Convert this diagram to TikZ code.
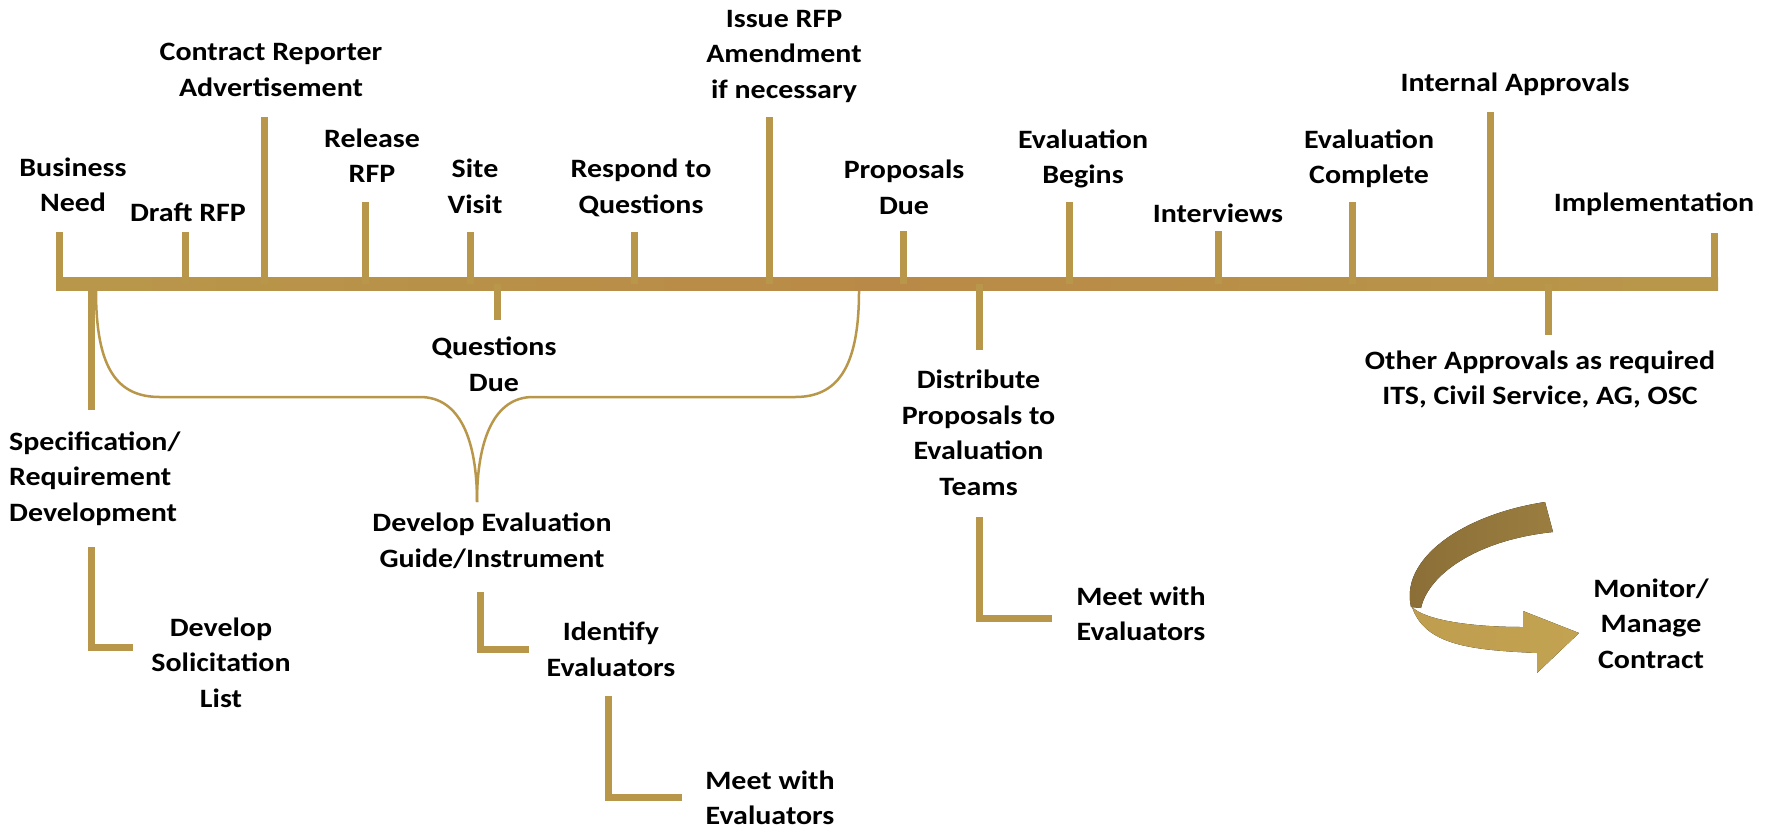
\documentclass[tikz,border=0pt]{standalone}
\usepackage{fontspec}
\setmainfont{Carlito}[FakeStretch=1.13]
\definecolor{gold}{HTML}{B8974A}
\definecolor{goldmid}{HTML}{B98A47}
\definecolor{darkA}{HTML}{8B6E36}
\definecolor{darkB}{HTML}{9A7D3F}
\definecolor{lightA}{HTML}{BF9E4F}
\definecolor{lightB}{HTML}{BA8D4A}
\definecolor{lightC}{HTML}{C2A351}
\begin{document}
\begin{tikzpicture}[x=1pt,y=-1pt,
  lbl/.style={font=\fontsize{26.5}{35.5}\selectfont\bfseries, align=center, inner sep=0pt,
    execute at begin node=\strut, execute at end node=\strut},
  tick/.style={draw=gold, line width=7pt},
  elbow/.style={draw=gold, line width=7pt, line join=miter},
  bracecurve/.style={draw=gold, line width=2.5pt}
]
\useasboundingbox (0,0) rectangle (1771,831);

% main time line
\coordinate (L0) at (56,284);
\coordinate (L1) at (1718,284);
\fill[left color=gold, right color=gold, middle color=goldmid] (56,277.5) rectangle (1718,290.5);

% labels above
\node[lbl] (bn)    at (73,190)    {Business\\Need};
\node[lbl] (draft) at (188,214)   {Draft RFP};
\node[lbl] (crep)  at (271,75)    {Contract Reporter\\Advertisement};
\node[lbl] (rel)   at (372,161)   {Release\\RFP};
\node[lbl] (site)  at (475,191.5) {Site\\Visit};
\node[lbl] (resp)  at (641,191.5) {Respond to\\Questions};
\node[lbl] (issue) at (784,59.5)  {Issue RFP\\Amendment\\if necessary};
\node[lbl] (prop)  at (904,192.5) {Proposals\\Due};
\node[lbl] (evb)   at (1083,162)  {Evaluation\\Begins};
\node[lbl] (intv)  at (1218,215)  {Interviews};
\node[lbl] (evc)   at (1369,162)  {Evaluation\\Complete};
\node[lbl] (inta)  at (1515,84)   {Internal Approvals};
\node[lbl] (impl)  at (1654,204)  {Implementation};

% labels below
\node[lbl] (qd)    at (494,369.5) {Questions\\Due};
\node[lbl, align=left, anchor=west] (spec) at (9,481.5) {Specification/\\Requirement\\Development};
\node[lbl] (dsl)   at (221,668)   {Develop\\Solicitation\\List};
\node[lbl] (dev)   at (492,545.7) {Develop Evaluation\\Guide/Instrument};
\node[lbl] (idev)  at (611,654.7) {Identify\\Evaluators};
\node[lbl] (meetA) at (770,803)   {Meet with\\Evaluators};
\node[lbl] (dist)  at (978.5,438.2) {Distribute\\Proposals to\\Evaluation\\Teams};
\node[lbl] (meetB) at (1141,619)  {Meet with\\Evaluators};
\node[lbl] (other) at (1540,383.2) {Other Approvals as required\\ITS, Civil Service, AG, OSC};
\node[lbl] (mon)   at (1651,629)  {Monitor/\\Manage\\Contract};

% tick ends above
\coordinate (tbn)    at (59.5,232);
\coordinate (tdraft) at (185,232);
\coordinate (tcrep)  at (264.5,117);
\coordinate (trel)   at (365,202);
\coordinate (tsite)  at (470.5,232);
\coordinate (tresp)  at (634.5,232);
\coordinate (tissue) at (769.5,117);
\coordinate (tprop)  at (903.5,231);
\coordinate (tevb)   at (1069,202);
\coordinate (tintv)  at (1218.5,231);
\coordinate (tevc)   at (1352.5,202);
\coordinate (tinta)  at (1490.5,112);
\coordinate (timpl)  at (1714.5,233);
\foreach \t in {tbn,tdraft,tcrep,trel,tsite,tresp,tissue,tprop,tevb,tintv,tevc,tinta,timpl}
  \draw[tick] (\t) -- (\t |- L0);

% tick ends below
\coordinate (bspec)  at (91,410);
\coordinate (bqd)    at (497.5,320);
\coordinate (bdist)  at (979,350);
\coordinate (bother) at (1548.5,335);
\foreach \t in {bspec,bqd,bdist,bother}
  \draw[tick] (\t |- L0) -- (\t);

% elbow connectors
\coordinate (e1a) at (91,547);   \coordinate (e1b) at (133,647.5);
\coordinate (e2a) at (480,592);  \coordinate (e2b) at (529,649);
\coordinate (e3a) at (608,696);  \coordinate (e3b) at (682,797);
\coordinate (e4a) at (979,517);  \coordinate (e4b) at (1052,618.5);
\draw[elbow] (e1a) |- (e1b);
\draw[elbow] (e2a) |- (e2b);
\draw[elbow] (e3a) |- (e3b);
\draw[elbow] (e4a) |- (e4b);

% brace
\coordinate (bl) at (96,291);
\coordinate (br) at (859,291);
\coordinate (bc) at (477,502);
\draw[bracecurve] (bl) .. controls (96,370) and (118,397) .. (160,397) -- (420,397)
   .. controls (460,397) and (477,440) .. (bc);
\draw[bracecurve] (br) .. controls (859,370) and (836,397) .. (795,397) -- (533,397)
   .. controls (494,397) and (477,440) .. (bc);

% curved arrow
\fill[left color=darkA, right color=darkB]
  (1545,502) -- (1553,532) .. controls (1476,540) and (1428,575) .. (1421,608)
  -- (1411,607) .. controls (1400,560) and (1460,515) .. (1545,502) -- cycle;
\fill[left color=lightA, middle color=lightB, right color=lightC]
  (1412,607) .. controls (1425,620) and (1470,627) .. (1523,627)
  -- (1523,611) -- (1579,633) -- (1537,673) -- (1537,653)
  .. controls (1470,650) and (1425,645) .. (1412,607) -- cycle;
\end{tikzpicture}
\end{document}
